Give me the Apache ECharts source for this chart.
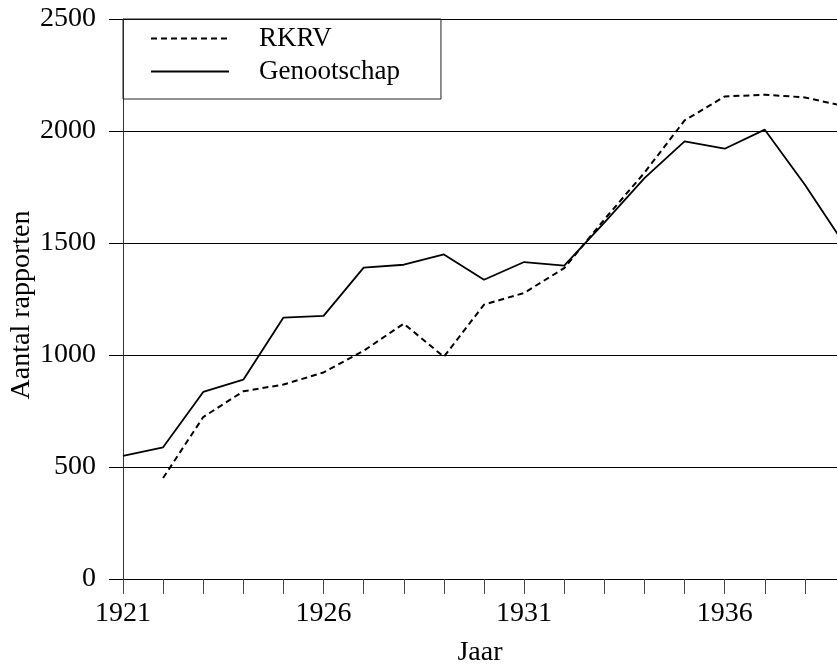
<!DOCTYPE html>
<html>
<head>
<meta charset="utf-8">
<script src="https://cdn.jsdelivr.net/npm/echarts@6/dist/echarts.min.js"></script>
<style>html,body{margin:0;padding:0;background:#fff}#c{width:837px;height:665px}</style>
</head>
<body>
<div id="c"></div>
<script>
const years = [1921,1922,1923,1924,1925,1926,1927,1928,1929,1930,1931,1932,1933,1934,1935,1936,1937,1938,1939];
const rkrv = [null,451,723,838,868,922,1019,1140,992,1225,1277,1388,1605,1814,2047,2154,2162,2150,2110];
const genootschap = [550,588,835,890,1167,1175,1390,1403,1449,1336,1415,1399,1591,1790,1954,1921,2006,1760,1490];
const xTickYears = [1921,1922,1923,1924,1925,1926,1927,1928,1929,1930,1931,1932,1933,1934,1935,1936,1937,1938];
const xLabelYears = [1921,1926,1931,1936];
const yTicks = [0,500,1000,1500,2000,2500];

const FONT = '"Liberation Serif","Times New Roman",serif';
const chart = echarts.init(document.getElementById('c'));
const pair = arr => years.map((y,i) => [y, arr[i]]);

chart.setOption({
  animation: false,
  backgroundColor: '#fff',
  textStyle: {fontFamily: FONT, color: '#000'},
  grid: {left: 123, right: 0, top: 19, bottom: 86, containLabel: false, outerBoundsMode: 'none'},
  legend: {
    orient: 'vertical', left: 123, top: 19,
    padding: [6, 41, 14, 27],
    itemGap: 6, itemWidth: 78, itemHeight: 14,
    borderColor: '#222', borderWidth: 1,
    itemStyle: {color: 'rgba(0,0,0,0)', borderColor: 'rgba(0,0,0,0)', borderWidth: 0},
    textStyle: {fontFamily: FONT, fontSize: 27, color: '#000', padding: [0,0,0,25]},
    data: ['RKRV', 'Genootschap']
  },
  xAxis: {
    type: 'value', min: 1921, max: 1938.8,
    name: 'Jaar', nameLocation: 'middle', nameGap: 60, nameMoveOverlap: false,
    nameTextStyle: {fontFamily: FONT, fontSize: 28, color: '#000'},
    axisLine: {show: true, lineStyle: {color: '#000', width: 1}},
    axisTick: {show: true, length: 15, customValues: xTickYears, lineStyle: {color: '#444'}},
    axisLabel: {customValues: xLabelYears, fontFamily: FONT, fontSize: 28, color: '#000', margin: 21, formatter: v => String(v)},
    splitLine: {show: false}
  },
  yAxis: {
    type: 'value', min: 0, max: 2500, interval: 500,
    name: 'Aantal rapporten', nameLocation: 'middle', nameGap: 87, nameMoveOverlap: false,
    nameTextStyle: {fontFamily: FONT, fontSize: 28, color: '#000', padding: [0, 12, 0, 0]},
    axisLine: {show: true, lineStyle: {color: '#333', width: 1}},
    axisTick: {show: true, length: 14, lineStyle: {color: '#000'}},
    axisLabel: {fontFamily: FONT, fontSize: 28, color: '#000', margin: 27, formatter: v => String(v)},
    splitLine: {show: true, lineStyle: {color: '#000', width: 1}}
  },
  series: [
    {name: 'RKRV', type: 'line', data: pair(rkrv), symbol: 'none', connectNulls: false,
     lineStyle: {color: '#000', width: 2, type: [6, 4]}, itemStyle: {color: '#000'}},
    {name: 'Genootschap', type: 'line', data: pair(genootschap), symbol: 'none',
     lineStyle: {color: '#000', width: 1.8, type: 'solid'}, itemStyle: {color: '#000'}}
  ]
});
</script>
</body>
</html>
